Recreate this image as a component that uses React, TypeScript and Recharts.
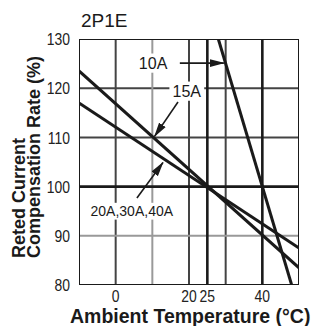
import React from 'react';
import { LineChart, Line, XAxis, YAxis, ReferenceLine, ReferenceDot } from 'recharts';

const title = '2P1E';
const xAxisTitle = 'Ambient Temperature (°C)';
const yAxisTitleLines = ['Reted Current', 'Compensation Rate (%)'];

const xDomain: [number, number] = [-10, 50];
const yDomain: [number, number] = [80, 130];
const xTicks = [0, 20, 25, 40];
const yTicks = [80, 90, 100, 110, 120, 130];

const thinX = [0, 20, 30];
const thinY = [110, 120];
const greyX = [10];
const greyY = [90];
const boldX = [25, 40];
const boldY = [100];
const borderX = [-10, 50];
const borderY = [80, 130];

const temp10A = [28, 48];
const rate10A = [130, 80];
const temp15A = [-10, 50];
const rate15A = [123.5, 83.5];
const temp20A = [-10, 50];
const rate20A = [117, 87.5];

const labelNames = ['10A', '15A', '20A,30A,40A'];
const labelTemps = [10.2, 19.4, 4.4];
const labelRates = [125.1, 119.4, 95.0];
const labelSizes = [16, 16, 14];

const arrowFromT = [17.5, 17.0, 5.8];
const arrowFromR = [125.1, 117.2, 97.7];
const arrowToT = [29.5, 10.6, 12.9];
const arrowToR = [125.1, 110.2, 104.9];

const toRows = (t: number[], r: number[]) => t.map((x, i) => ({ t: x, v: r[i] }));
const data10A = toRows(temp10A, rate10A);
const data15A = toRows(temp15A, rate15A);
const data20A = toRows(temp20A, rate20A);

const W = 312;
const H = 326;
const sans = '"Liberation Sans", Arial, sans-serif';

const vLine = (x: number) => [{ t: x, v: yDomain[0] }, { t: x, v: yDomain[1] }];
const hLine = (y: number) => [{ t: xDomain[0], v: y }, { t: xDomain[1], v: y }];

const NarrowTick = (anchor: 'end' | 'middle', dy: string) => (p: any) => {
  const { x, y, payload } = p;
  return (
    <text
      transform={`translate(${x}, ${y}) scale(0.82, 1)`}
      textAnchor={anchor}
      dy={dy}
      fontSize={17}
      fontFamily={sans}
      fill="#222"
    >
      {payload.value}
    </text>
  );
};

const gridLines = (
  xs: number[],
  ys: number[],
  stroke: string,
  width: number,
  prefix: string
) => [
  ...xs.map((x) => (
    <Line key={prefix + 'x' + x} data={vLine(x)} dataKey="v" dot={false} activeDot={false}
      isAnimationActive={false} stroke={stroke} strokeWidth={width} />
  )),
  ...ys.map((y) => (
    <Line key={prefix + 'y' + y} data={hLine(y)} dataKey="v" dot={false} activeDot={false}
      isAnimationActive={false} stroke={stroke} strokeWidth={width} />
  )),
];

export default function App() {
  return (
    <div style={{ position: 'absolute', left: 0, top: 0, width: W, height: H, background: '#fff' }}>
      <svg width={0} height={0} style={{ position: 'absolute' }}>
        <defs>
          <marker id="arrowHead" markerUnits="userSpaceOnUse" markerWidth={15} markerHeight={9} refX={14} refY={4.5} orient="auto">
            <path d="M0,0.5 L15,4.5 L0,8.5 z" fill="#1a1a1a" />
          </marker>
        </defs>
      </svg>
      <LineChart width={W} height={H} margin={{ top: 39, right: 13, left: 0, bottom: 0 }}>
        <XAxis
          type="number"
          dataKey="t"
          domain={xDomain}
          ticks={xTicks}
          allowDataOverflow
          height={41}
          tickSize={0}
          tickMargin={5}
          axisLine={false}
          tick={NarrowTick('middle', '0.71em')}
          interval={0}
        />
        <YAxis
          type="number"
          domain={yDomain}
          ticks={yTicks}
          allowDataOverflow
          width={79}
          tickSize={0}
          tickMargin={9}
          axisLine={false}
          tick={NarrowTick('end', '0.36em')}
          interval={0}
        />
        {gridLines(thinX, thinY, '#444444', 2, 'thin')}
        {gridLines(greyX, greyY, '#999999', 2, 'grey')}
        {gridLines(borderX, borderY, '#1a1a1a', 2, 'border')}
        {gridLines(boldX, boldY, '#1a1a1a', 2.6, 'bold')}
        <Line data={data10A} dataKey="v" stroke="#1a1a1a" strokeWidth={3} dot={false} isAnimationActive={false} />
        <Line data={data15A} dataKey="v" stroke="#1a1a1a" strokeWidth={3} dot={false} isAnimationActive={false} />
        <Line data={data20A} dataKey="v" stroke="#1a1a1a" strokeWidth={3} dot={false} isAnimationActive={false} />
        {labelNames.map((name, i) => (
          <ReferenceLine
            key={'ar' + i}
            segment={[
              { x: arrowFromT[i], y: arrowFromR[i] },
              { x: arrowToT[i], y: arrowToR[i] },
            ]}
            stroke="#1a1a1a"
            strokeWidth={1.6}
            markerEnd="url(#arrowHead)"
          />
        ))}
        {labelNames.map((name, i) => (
          <ReferenceDot
            key={'lb' + i}
            x={labelTemps[i]}
            y={labelRates[i]}
            r={0}
            shape={(p: any) => {
              const fs = labelSizes[i];
              const w = name.length * fs * 0.6 + 6;
              return (
                <g>
                  <rect x={p.cx - w / 2} y={p.cy - fs * 0.6} width={w} height={fs * 1.2} fill="#fff" />
                  <text x={p.cx} y={p.cy} dy="0.36em" textAnchor="middle" fontSize={fs} fontFamily={sans} fill="#1a1a1a">
                    {name}
                  </text>
                </g>
              );
            }}
          />
        ))}
      </LineChart>
      <svg width={W} height={H} style={{ position: 'absolute', left: 0, top: 0, pointerEvents: 'none' }}>
        <text x={81} y={27} fontSize={19} fontFamily={sans} fill="#1a1a1a">{title}</text>
        <text x={70} y={323} fontSize={19.5} fontWeight="bold" fontFamily={sans} fill="#1a1a1a">{xAxisTitle}</text>
        {yAxisTitleLines.map((line, i) => (
          <text
            key={line}
            transform={`translate(${25 + i * 15}, 258) rotate(-90)`}
            fontSize={18}
            fontWeight="bold"
            fontFamily={sans}
            fill="#1a1a1a"
          >
            {line}
          </text>
        ))}
      </svg>
    </div>
  );
}
